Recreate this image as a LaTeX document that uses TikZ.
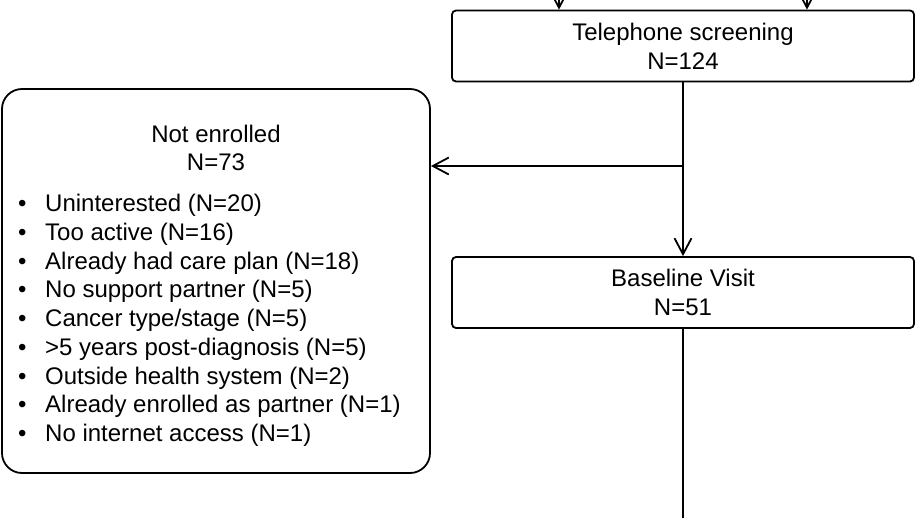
\documentclass[tikz,border=0pt]{standalone}
\usepackage{fontspec}
\setmainfont{Liberation Sans}
\usetikzlibrary{arrows.meta}
\begin{document}
\begin{tikzpicture}[x=1pt,y=-1pt,
  every node/.style={font=\fontsize{24}{28.75}\selectfont},
  ln/.style={line width=1.8pt},
  arr/.style={ln,-{Straight Barb[length=16pt,width=17pt]}},
  smallbox/.style={draw,ln,rounded corners=4pt,minimum width=462pt,align=center,inner sep=0pt},
  bigbox/.style={draw,ln,rounded corners=20pt,minimum width=428pt,minimum height=384pt,inner sep=0pt},
  item/.style={anchor=base west,inner sep=0pt}]
\clip (0,0) rectangle (918,517);
\fill[white] (0,0) rectangle (918,517);
\node[smallbox,minimum height=71pt] (tel) at (683,46) {Telephone screening\\N=124};
\node[smallbox,minimum height=71pt] (base) at (683,292.5) {Baseline Visit\\N=51};
\node[bigbox] (ne) at (216,281) {};
\node[align=center,inner sep=0pt] (netitle) at (216,148) {Not enrolled\\N=73};
\foreach \t [count=\i] in {Uninterested (N=20),Too active (N=16),Already had care plan (N=18),No support partner (N=5),Cancer type/stage (N=5),{>5 years post-diagnosis (N=5)},Outside health system (N=2),Already enrolled as partner (N=1),No internet access (N=1)}
  \node[item] (it\i) at (18,{203+8.5+(\i-1)*28.75}) {\makebox[27pt][l]{\textbullet}\t};
\coordinate (t1) at (559,-30);
\coordinate (t2) at (807,-30);
\coordinate (br) at (683,166);
\coordinate (end) at (683,530);
\draw[arr] (t1) -- (t1 |- tel.north);
\draw[arr] (t2) -- (t2 |- tel.north);
\draw[arr] (tel.south) -- (base.north);
\draw[arr] (br) -- (br -| ne.east);
\draw[ln] (base.south) -- (end);
\end{tikzpicture}
\end{document}
